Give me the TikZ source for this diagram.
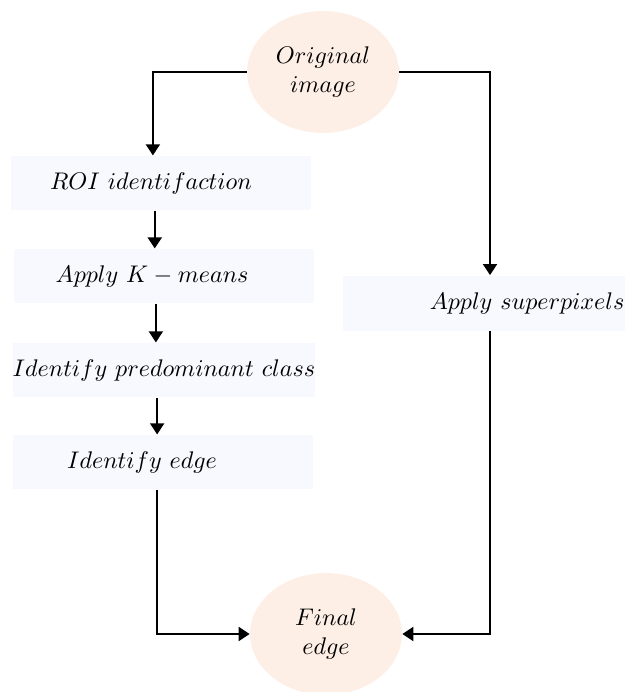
\documentclass[tikz,border=0pt]{standalone}
\usetikzlibrary{arrows.meta,shapes.geometric}

\definecolor{peach}{RGB}{253,239,230}
\definecolor{lavender}{RGB}{248,248,255}

\tikzstyle{endNode}=[ellipse,fill=peach,minimum width=2.43cm,minimum height=1.95cm,inner sep=0pt,align=center,font=\fontsize{10.9pt}{13.5pt}\selectfont]
\tikzstyle{stepNode}=[rectangle,fill=lavender,minimum width=4.8cm,minimum height=0.87cm,inner sep=0pt,font=\fontsize{10.9pt}{13pt}\selectfont]
\tikzstyle{flowArrow}=[-{Triangle[width=6.4pt,length=5pt]}, thick]

\begin{document}
\begin{tikzpicture}
		\useasboundingbox (0,0) rectangle (10,-11.072);
		
		\node[endNode] (orig) at (5.168, -1.152) {$Original$\\$image$};
		\node[endNode] (final) at (5.216, -10.144) {$Final$\\$edge$};
		
		\node[stepNode] (roi) at (2.576, -2.928) {$ROI\ identifaction$\hspace*{0.32cm}};
		\node[stepNode] (kmeans) at (2.624, -4.416) {$Apply\ K-means$\hspace*{0.38cm}};
		\node[stepNode] (pred) at (2.624, -5.92) {$Identify\ predominant\ class$};
		\node[stepNode] (edge) at (2.608, -7.392) {$Identify\ edge$\hspace*{0.67cm}};
		\node[stepNode,minimum width=4.512cm,minimum height=0.88cm] (super) at (7.744, -4.848) {\hspace*{1.38cm}$Apply\ superpixels$};
		
		\draw[flowArrow] (orig.west) -| ([xshift=-0.13cm]roi.north);
		\draw[flowArrow] (orig.east) -| ([xshift=0.096cm]super.north);
		\draw[flowArrow] ([xshift=-0.1cm]roi.south) -- ([xshift=-0.1cm]roi.south |- kmeans.north);
		\draw[flowArrow] ([xshift=-0.13cm]kmeans.south) -- ([xshift=-0.13cm]kmeans.south |- pred.north);
		\draw[flowArrow] ([xshift=-0.11cm]pred.south) -- ([xshift=-0.11cm]pred.south |- edge.north);
		\draw[flowArrow] ([xshift=-0.1cm]edge.south) |- (final.west);
		\draw[flowArrow] ([xshift=0.096cm]super.south) |- (final.east);
\end{tikzpicture}
\end{document}
